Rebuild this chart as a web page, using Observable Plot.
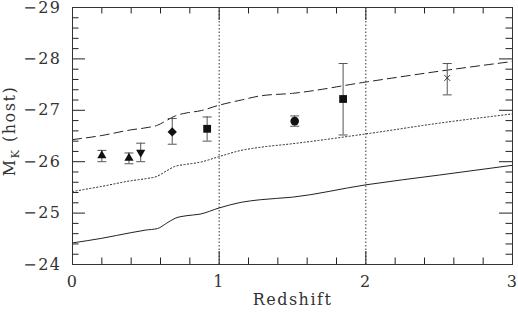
<!DOCTYPE html>
<html><head><meta charset="utf-8">
<script src="https://cdn.jsdelivr.net/npm/d3@7"></script>
<script src="https://cdn.jsdelivr.net/npm/@observablehq/plot@0.6"></script>
<style>
body{margin:0;background:#fff}
svg{display:block;overflow:visible}
svg text{letter-spacing:1.5px}
</style>
</head><body><div id="chart"></div>
<script>
// Model tracks (redshift vs host K-band absolute magnitude)
const modelZ      = [0, 0.2, 0.4, 0.5, 0.58, 0.64, 0.7, 0.78, 0.87, 1.0, 1.15, 1.28, 1.5, 2.0, 2.5, 3.0];
const modelSolid  = [-24.42, -24.51, -24.62, -24.67, -24.70, -24.80, -24.90, -24.95, -24.98, -25.10, -25.21, -25.26, -25.31, -25.55, -25.74, -25.93];
const modelDotted = [-25.42, -25.52, -25.63, -25.67, -25.72, -25.82, -25.91, -25.95, -25.99, -26.10, -26.22, -26.28, -26.35, -26.54, -26.75, -26.93];
const modelDashed = [-26.43, -26.51, -26.62, -26.66, -26.71, -26.80, -26.89, -26.95, -26.99, -27.10, -27.20, -27.28, -27.33, -27.55, -27.76, -27.95];

// Observed hosts
const obsZ      = [0.20, 0.385, 0.465, 0.68, 0.918, 1.515, 1.845, 2.555];
const obsMag    = [-26.12, -26.07, -26.18, -26.58, -26.64, -26.79, -27.22, -27.63];
const obsBright = [-26.22, -26.17, -26.36, -26.84, -26.87, -26.89, -27.91, -27.91];
const obsFaint  = [-26.00, -25.96, -26.00, -26.34, -26.40, -26.69, -26.52, -27.30];
const obsMarker = ["triangle", "triangle", "triangleDown", "diamond", "square", "circle", "square", "times"];

const refLines = [1, 2];
const xTicks = [0, 1, 2, 3];
const yTicks = [-29, -28, -27, -26, -25, -24];
const xLabel = "Redshift";
const yLabelMain = "M", yLabelSub = "K", yLabelRest = " (host)";

const W = 518, H = 312, mL = 72, mR = 6, mT = 7, mB = 48;
const fw = W - mL - mR, fh = H - mT - mB;
const ink = "#222", textInk = "#333";

const model = modelZ.map((z, i) => ({z, solid: modelSolid[i], dotted: modelDotted[i], dashed: modelDashed[i]}));
const obs = obsZ.map((z, i) => ({z, mag: obsMag[i], hi: obsBright[i], lo: obsFaint[i], marker: obsMarker[i]}));

const isInt = v => Math.abs(v - Math.round(v)) < 1e-6;
const minorX = d3.range(0, 3.0001, 0.2).map(v => +v.toFixed(1)).filter(v => !isInt(v));
const minorY = d3.range(-29, -23.999, 0.2).map(v => +v.toFixed(1)).filter(v => !isInt(v));

const downTriangle = {draw(ctx, size) {
  const y = Math.sqrt(size / (Math.sqrt(3) * 3));
  ctx.moveTo(0, 2 * y); ctx.lineTo(-Math.sqrt(3) * y, -y); ctx.lineTo(Math.sqrt(3) * y, -y); ctx.closePath();
}};
const capSym = {draw(ctx) { ctx.moveTo(-4.5, 0); ctx.lineTo(4.5, 0); }};
const symbolMap = {
  triangle: ["triangle", 3.4],
  triangleDown: [downTriangle, 3.4],
  diamond: ["diamond2", 4.2],
  square: ["square", 4.4],
  circle: ["circle", 4.3],
  times: ["times", 2.8]
};

const majLen = 13, minLen = 6.5;
const tickMarks = [
  Plot.tickX(xTicks, {x: d => d, insetTop: fh - majLen, stroke: ink}),
  Plot.tickX(minorX, {x: d => d, insetTop: fh - minLen, stroke: ink}),
  Plot.tickX(xTicks, {x: d => d, insetBottom: fh - majLen, stroke: ink}),
  Plot.tickX(minorX, {x: d => d, insetBottom: fh - minLen, stroke: ink}),
  Plot.tickY(yTicks, {y: d => d, insetRight: fw - majLen, stroke: ink}),
  Plot.tickY(minorY, {y: d => d, insetRight: fw - minLen, stroke: ink}),
  Plot.tickY(yTicks, {y: d => d, insetLeft: fw - majLen, stroke: ink}),
  Plot.tickY(minorY, {y: d => d, insetLeft: fw - minLen, stroke: ink})
];

const markerMarks = Object.entries(symbolMap).map(([k, [sym, r]]) =>
  Plot.dot(obs.filter(d => d.marker === k), {
    x: "z", y: "mag", symbol: sym, r,
    fill: k === "times" ? "none" : "#111",
    stroke: k === "times" ? "#333" : "none",
    strokeWidth: 1
  })
);

const svg = Plot.plot({
  width: W, height: H,
  marginLeft: mL, marginRight: mR, marginTop: mT, marginBottom: mB,
  style: {fontFamily: "'DejaVu Serif', serif", fontSize: "16px", color: textInk, background: "#fff"},
  x: {domain: [0, 3]},
  y: {domain: [-24, -29]},
  marks: [
    Plot.ruleX(refLines, {x: d => d, stroke: "#333", strokeDasharray: "1.5,2"}),
    Plot.line(model, {x: "z", y: "solid", stroke: ink, strokeWidth: 1, curve: "monotone-x"}),
    Plot.line(model, {x: "z", y: "dotted", stroke: ink, strokeWidth: 1, strokeDasharray: "1.2,2.3", curve: "monotone-x"}),
    Plot.line(model, {x: "z", y: "dashed", stroke: ink, strokeWidth: 1, strokeDasharray: "9,5", curve: "monotone-x"}),
    Plot.ruleX(obs, {x: "z", y1: "lo", y2: "hi", stroke: "#555", strokeWidth: 1}),
    Plot.dot(obs, {x: "z", y: "hi", symbol: capSym, r: 3, fill: "none", stroke: "#555", strokeWidth: 1}),
    Plot.dot(obs, {x: "z", y: "lo", symbol: capSym, r: 3, fill: "none", stroke: "#555", strokeWidth: 1}),
    ...markerMarks,
    ...tickMarks,
    Plot.frame({stroke: "#333"}),
    Plot.axisX({ticks: xTicks, tickSize: 0, tickPadding: 11, label: null, fontSize: 16, fill: textInk, tickFormat: d => String(d)}),
    Plot.axisY({ticks: yTicks, tickSize: 0, tickPadding: 11, label: null, fontSize: 16, fill: textInk, tickFormat: d => "\u2212" + Math.abs(d)}),
    Plot.text([xLabel], {text: d => d, frameAnchor: "bottom", dy: 40, fontSize: 16, fill: textInk})
  ]
});

const t = d3.select(svg).append("text")
  .attr("transform", "translate(15,131) rotate(-90)")
  .attr("text-anchor", "middle")
  .attr("fill", textInk)
  .attr("font-size", 16)
  .attr("font-family", "'DejaVu Serif', serif");
t.append("tspan").text(yLabelMain);
t.append("tspan").attr("dy", 4).attr("font-size", 11).text(yLabelSub);
t.append("tspan").attr("dy", -4).text(yLabelRest);

document.getElementById("chart").appendChild(svg);
</script>
</body></html>
